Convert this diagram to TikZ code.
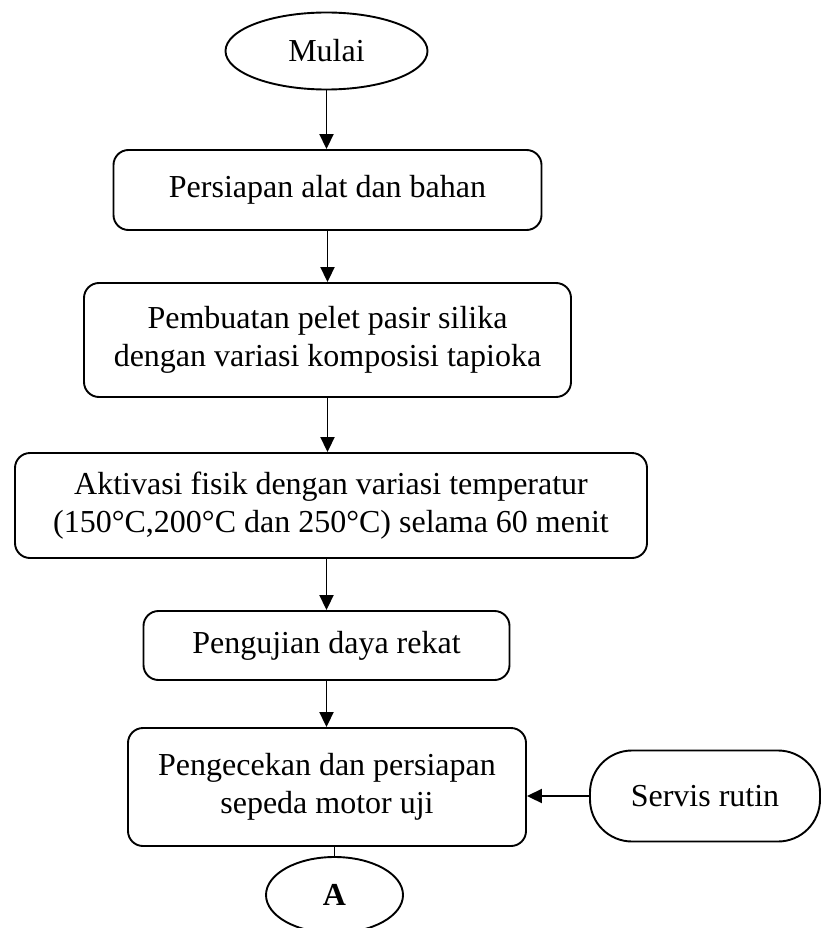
\documentclass[tikz,border=0pt]{standalone}
\usepackage{fontspec}
\setmainfont{Liberation Serif}
\usetikzlibrary{shapes.geometric,arrows.meta}
\tikzset{
  box/.style={draw, line width=1.9pt, rounded corners=15pt, align=center, inner sep=0pt, font=\fontsize{32pt}{38pt}\selectfont},
  term/.style={draw, ellipse, line width=1.9pt, inner sep=0pt, font=\fontsize{32pt}{38pt}\selectfont},
  stad/.style={draw, line width=1.9pt, rounded corners=42pt, align=center, inner sep=0pt, font=\fontsize{32pt}{38pt}\selectfont},
  arr/.style={line width=1.9pt, -{Triangle[length=15pt,width=14pt]}},
  ln/.style={line width=1.9pt}
}
\begin{document}
\begin{tikzpicture}[x=1pt,y=-1pt]
\clip (0,0) rectangle (823,928);
\node[term, minimum width=202pt, minimum height=77pt] (mulai) at (326.5,51) {Mulai};
\node[box, minimum width=428pt, minimum height=80pt] (persiapan) at (327.5,190) {Persiapan alat dan bahan};
\node[box, minimum width=487pt, minimum height=114pt] (pembuatan) at (327.5,340) {Pembuatan pelet pasir silika\\dengan variasi komposisi tapioka};
\node[box, minimum width=632pt, minimum height=105pt] (aktivasi) at (331,505.5) {Aktivasi fisik dengan variasi temperatur\\(150°C,200°C dan 250°C) selama 60 menit};
\node[box, minimum width=366pt, minimum height=69pt] (pengujian) at (326.5,645.5) {Pengujian daya rekat};
\node[box, minimum width=398pt, minimum height=118pt] (pengecekan) at (327,787) {Pengecekan dan persiapan\\sepeda motor uji};
\node[stad, minimum width=230pt, minimum height=91pt] (servis) at (705,796) {Servis rutin};
\node[term, minimum width=137pt, minimum height=76pt, font=\fontsize{32pt}{38pt}\selectfont\bfseries] (A) at (334.5,895) {A};
\draw[arr] (mulai.south) -- (mulai.south |- persiapan.north);
\draw[arr] (persiapan.south) -- (persiapan.south |- pembuatan.north);
\draw[arr] (pembuatan.south) -- (pembuatan.south |- aktivasi.north);
\draw[arr] (pengujian.north |- aktivasi.south) -- (pengujian.north);
\draw[arr] (pengujian.south) -- (pengujian.south |- pengecekan.north);
\draw[arr] (servis.west) -- (servis.west -| pengecekan.east);
\draw[ln] (A.north |- pengecekan.south) -- (A.north);
\end{tikzpicture}
\end{document}
